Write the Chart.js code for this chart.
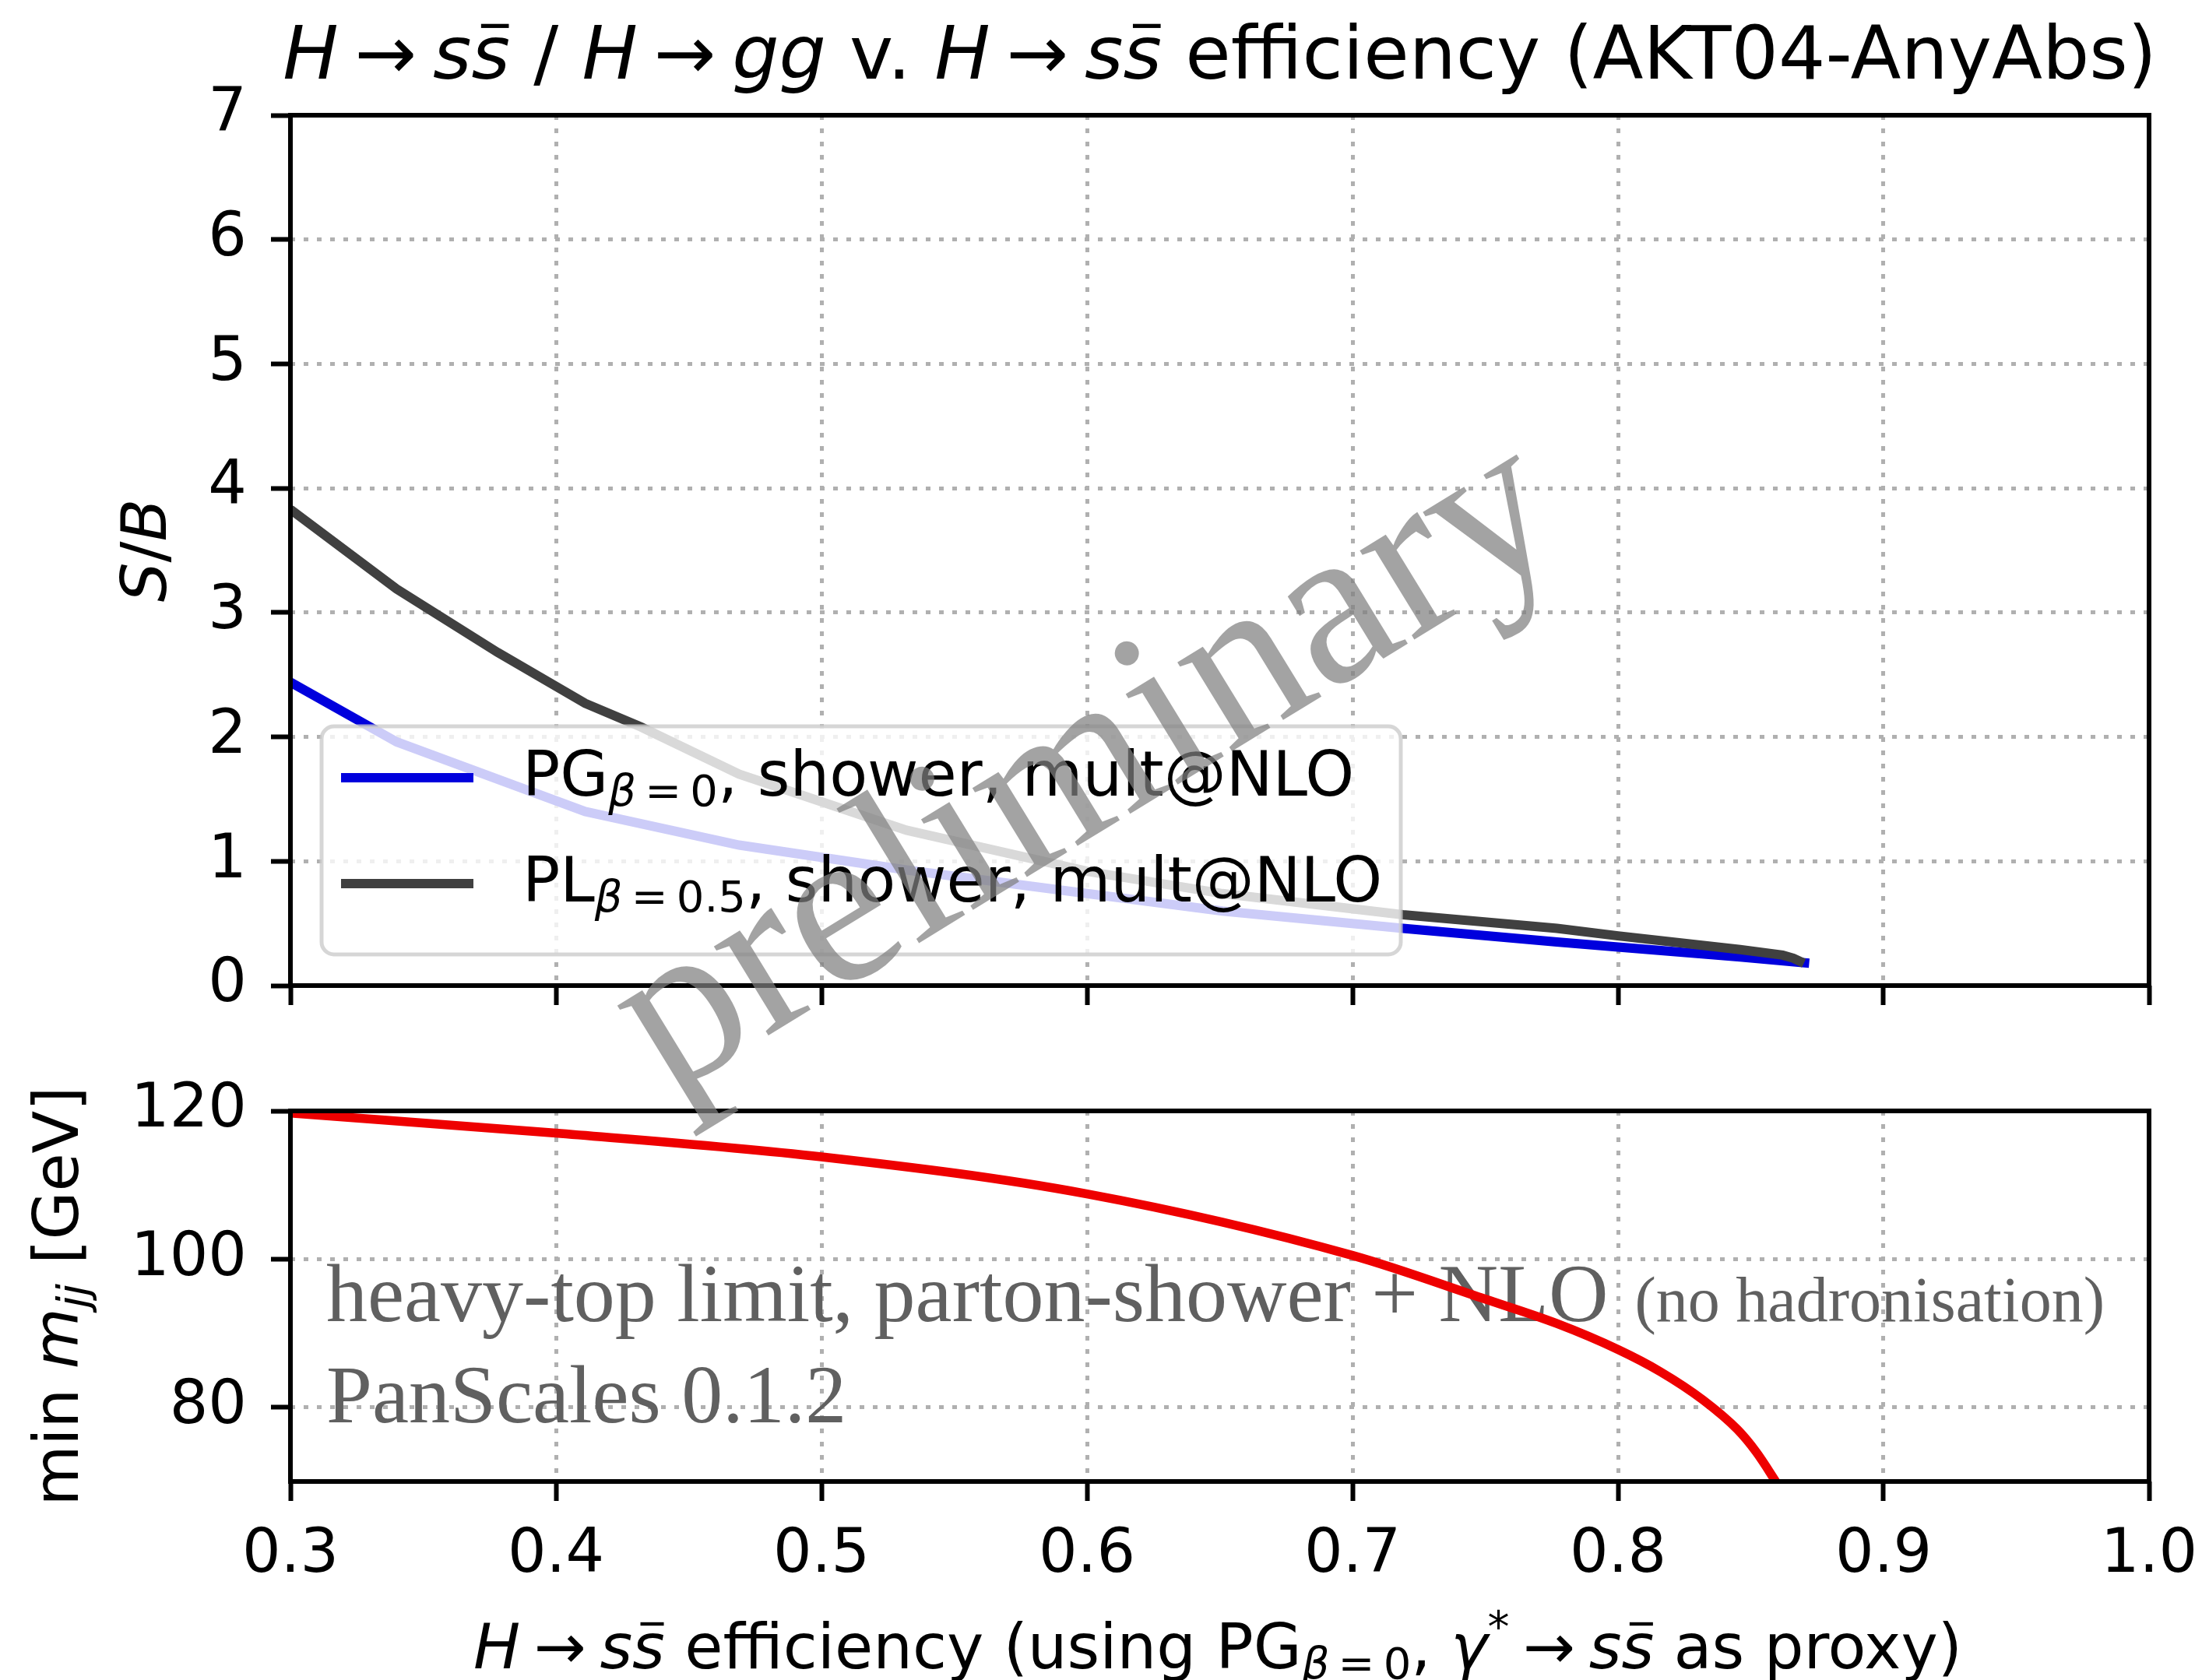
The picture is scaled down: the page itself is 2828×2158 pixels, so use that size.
<!DOCTYPE html>
<html>
<head>
<meta charset="utf-8">
<script src="https://cdn.jsdelivr.net/npm/chart.js@4.4.1/dist/chart.umd.min.js"></script>
<style>
html, body { margin: 0; padding: 0; background: #fff; }
#wrap { position: relative; width: 2828px; height: 2158px; }
canvas { position: absolute; left: 0; top: 0; }
</style>
</head>
<body>
<div id="wrap">
<canvas id="sbChart" width="2828" height="2158"></canvas>
<canvas id="mjjChart" width="2828" height="2158"></canvas>
</div>
<script>
//values
let effPG = [0.300, 0.340, 0.411, 0.469, 0.532, 0.600, 0.651, 0.719, 0.777, 0.800, 0.846, 0.872];
let sbPG = [2.44, 1.96, 1.40, 1.13, 0.93, 0.74, 0.60, 0.46, 0.35, 0.31, 0.23, 0.18];

let effPL = [0.300, 0.340, 0.378, 0.411, 0.432, 0.469, 0.532, 0.600, 0.651, 0.719, 0.777, 0.800, 0.846, 0.862, 0.866, 0.870];
let sbPL = [3.83, 3.19, 2.68, 2.27, 2.08, 1.70, 1.25, 0.92, 0.74, 0.57, 0.46, 0.40, 0.29, 0.245, 0.22, 0.18];

let effCut = [0.300, 0.400, 0.500, 0.600, 0.700, 0.750, 0.777, 0.800, 0.816, 0.832, 0.845, 0.852, 0.8605];
let mjjCut = [119.7, 117.0, 113.8, 108.8, 100.5, 94.6, 91.3, 87.8, 84.8, 81.0, 77.0, 74.0, 69.4];

let xRange = [0.3, 1.0];
let sbRange = [0, 7];
let mjjRange = [70, 120];

let noteMain = "heavy-top limit, parton-shower + NLO";
let noteSmall = "(no hadronisation)";
let noteVersion = "PanScales 0.1.2";
let watermark = "preliminary";

//layout in page pixels
let W = 2828, H = 2158;
let axLeft = 373, axRight = 2760;
let topBox = [148, 1266];
let botBox = [1427, 1903];

let sans = '"DejaVu Sans"';
let serif = '"Liberation Serif"';
let tickSize = 78;
let labelSize = 80;
let gridColor = "#b0b0b0";

function toPoints(xs, ys) {
    return xs.map((x, i) => ({ x: x, y: ys[i] }));
}

//draws a run of text pieces (italic, sub/superscript, overbar)
function drawRich(ctx, segs, x, y, size, align, color) {
    let w = 0;
    let items = segs.map(s => {
        let fs = size * (s.sc || 1);
        let font = (s.it ? "italic " : "") + fs + "px " + sans;
        ctx.font = font;
        let tw = ctx.measureText(s.t).width;
        let item = { s: s, fs: fs, font: font, tw: tw, x: w + (s.pre || 0) * size };
        w = item.x + tw + (s.post || 0) * size;
        return item;
    });
    let x0 = align === "center" ? x - w / 2 : x;
    ctx.fillStyle = color;
    ctx.textAlign = "left";
    ctx.textBaseline = "alphabetic";
    items.forEach(it => {
        ctx.font = it.font;
        let yy = y + (it.s.dy || 0) * size;
        ctx.fillText(it.s.t, x0 + it.x, yy);
        if (it.s.bar) {
            ctx.fillRect(x0 + it.x + it.tw * 0.25, yy - it.fs * 0.74, it.tw * 0.72, it.fs * 0.055);
        }
    });
    return w;
}

let arrow = { t: "\u2192", pre: 0.22, post: 0.22 };

let titleSegs = [
    { t: "H", it: 1 }, arrow, { t: "s", it: 1 }, { t: "s", it: 1, bar: 1 },
    { t: " / " },
    { t: "H", it: 1 }, arrow, { t: "gg", it: 1 },
    { t: " v. " },
    { t: "H", it: 1 }, arrow, { t: "s", it: 1 }, { t: "s", it: 1, bar: 1 },
    { t: " efficiency (AKT04-AnyAbs)" },
];

let xLabelSegs = [
    { t: "H", it: 1 }, arrow, { t: "s", it: 1 }, { t: "s", it: 1, bar: 1 },
    { t: " efficiency (using PG" },
    { t: "\u03b2", it: 1, sc: 0.7, dy: 0.16 },
    { t: "=", sc: 0.7, dy: 0.16, pre: 0.14, post: 0.14 },
    { t: "0", sc: 0.7, dy: 0.16 },
    { t: ", " },
    { t: "\u03b3", it: 1 }, { t: "*", sc: 0.7, dy: -0.42 },
    arrow, { t: "s", it: 1 }, { t: "s", it: 1, bar: 1 },
    { t: " as proxy)" },
];

let sbLabelSegs = [{ t: "S", it: 1 }, { t: "/" }, { t: "B", it: 1 }];
let mjjLabelSegs = [{ t: "min " }, { t: "m", it: 1 }, { t: "jj", it: 1, sc: 0.7, dy: 0.16 }, { t: " [GeV]" }];

let legendRows = [
    {
        color: "#0000dd",
        segs: [{ t: "PG" }, { t: "\u03b2", it: 1, sc: 0.7, dy: 0.16 }, { t: "=", sc: 0.7, dy: 0.16, pre: 0.14, post: 0.14 },
            { t: "0", sc: 0.7, dy: 0.16 }, { t: ", shower, mult@NLO" }],
    },
    {
        color: "#404040",
        segs: [{ t: "PL" }, { t: "\u03b2", it: 1, sc: 0.7, dy: 0.16 }, { t: "=", sc: 0.7, dy: 0.16, pre: 0.14, post: 0.14 },
            { t: "0.5", sc: 0.7, dy: 0.16 }, { t: ", shower, mult@NLO" }],
    },
];

function roundRect(ctx, x, y, w, h, r) {
    ctx.beginPath();
    ctx.moveTo(x + r, y);
    ctx.arcTo(x + w, y, x + w, y + h, r);
    ctx.arcTo(x + w, y + h, x, y + h, r);
    ctx.arcTo(x, y + h, x, y, r);
    ctx.arcTo(x, y, x + w, y, r);
    ctx.closePath();
}

function drawFrame(chart) {
    let ctx = chart.ctx, a = chart.chartArea;
    ctx.save();
    ctx.strokeStyle = "#000";
    ctx.lineWidth = 6;
    ctx.strokeRect(a.left, a.top, a.right - a.left, a.bottom - a.top);
    ctx.restore();
}

function xAxis(showLabels, height) {
    return {
        type: "linear",
        min: xRange[0],
        max: xRange[1],
        ticks: {
            stepSize: 0.1,
            maxRotation: 0,
            autoSkip: false,
            padding: 24,
            color: "#000",
            font: { family: "DejaVu Sans", size: tickSize },
            callback: v => showLabels ? v.toFixed(1) : "",
        },
        grid: { color: gridColor, lineWidth: 5, tickLength: 25, tickWidth: 6, tickColor: "#000" },
        border: { display: false, dash: [6, 11] },
        afterFit: s => {
            s.height = height;
            s.paddingLeft = 0;
            s.paddingRight = 0;
        },
    };
}

function yAxis(range, step) {
    return {
        min: range[0],
        max: range[1],
        ticks: {
            stepSize: step,
            includeBounds: false,
            padding: 31,
            color: "#000",
            font: { family: "DejaVu Sans", size: tickSize },
        },
        grid: { color: gridColor, lineWidth: 5, tickLength: 25, tickWidth: 6, tickColor: "#000" },
        border: { display: false, dash: [6, 11] },
        afterFit: s => {
            s.width = axLeft;
            s.paddingTop = 0;
            s.paddingBottom = 0;
        },
    };
}

//S/B chart
let sbDecor = {
    id: "sbDecor",
    afterDatasetsDraw(chart) {
        let ctx = chart.ctx;
        drawFrame(chart);
        //legend, semi-transparent like matplotlib
        ctx.save();
        roundRect(ctx, 413, 933, 1386, 293, 16);
        ctx.fillStyle = "rgba(255,255,255,0.8)";
        ctx.fill();
        ctx.strokeStyle = "rgba(204,204,204,0.8)";
        ctx.lineWidth = 5;
        ctx.stroke();
        legendRows.forEach((row, i) => {
            let base = 1022 + i * 136;
            ctx.strokeStyle = row.color;
            ctx.lineWidth = 12;
            ctx.beginPath();
            ctx.moveTo(438, base - 23);
            ctx.lineTo(608, base - 23);
            ctx.stroke();
            drawRich(ctx, row.segs, 671, base, labelSize, "left", "#000");
        });
        ctx.restore();
    },
    afterDraw(chart) {
        let ctx = chart.ctx;
        ctx.save();
        drawRich(ctx, titleSegs, (axLeft + axRight) / 2, 101, 95, "center", "#000");
        ctx.translate(213, (topBox[0] + topBox[1]) / 2);
        ctx.rotate(-Math.PI / 2);
        drawRich(ctx, sbLabelSegs, 0, 0, labelSize, "center", "#000");
        ctx.restore();
    },
};

new Chart(document.getElementById("sbChart").getContext("2d"), {
    type: "line",
    data: {
        datasets: [{
            data: toPoints(effPG, sbPG),
            borderColor: "#0000dd",
            borderWidth: 12,
            pointRadius: 0,
            order: 2,
            clip: 0,
        }, {
            data: toPoints(effPL, sbPL),
            borderColor: "#404040",
            borderWidth: 12,
            pointRadius: 0,
            order: 1,
            clip: 0,
        }, ],
    },
    options: {
        responsive: false,
        animation: false,
        devicePixelRatio: 1,
        layout: { padding: { left: 0, right: W - axRight, top: topBox[0], bottom: 0 } },
        plugins: { legend: { display: false }, tooltip: { enabled: false }, title: { display: false } },
        scales: {
            x: xAxis(false, H - topBox[1]),
            y: yAxis(sbRange, 1),
        },
    },
    plugins: [sbDecor],
});

//min m_jj chart
let mjjDecor = {
    id: "mjjDecor",
    beforeDatasetsDraw(chart) {
        let ctx = chart.ctx;
        ctx.save();
        ctx.fillStyle = "#606060";
        ctx.textAlign = "left";
        ctx.textBaseline = "alphabetic";
        ctx.font = "106px " + serif;
        ctx.fillText(noteMain, 419, 1697);
        let w = ctx.measureText(noteMain).width;
        ctx.font = "82px " + serif;
        ctx.fillText(noteSmall, 419 + w + 34, 1697);
        ctx.font = "106px " + serif;
        ctx.fillText(noteVersion, 419, 1827);
        ctx.restore();
    },
    afterDatasetsDraw(chart) {
        drawFrame(chart);
    },
    afterDraw(chart) {
        let ctx = chart.ctx;
        ctx.save();
        drawRich(ctx, xLabelSegs, 1564, 2143, labelSize, "center", "#000");
        ctx.save();
        ctx.translate(100, (botBox[0] + botBox[1]) / 2);
        ctx.rotate(-Math.PI / 2);
        drawRich(ctx, mjjLabelSegs, 0, 0, labelSize, "center", "#000");
        ctx.restore();
        //watermark over both panels
        ctx.translate(1398, 988);
        ctx.rotate(-31.5 * Math.PI / 180);
        ctx.font = "292px " + serif;
        ctx.fillStyle = "rgba(128,128,128,0.72)";
        ctx.textAlign = "center";
        ctx.textBaseline = "middle";
        ctx.fillText(watermark, 0, 0);
        ctx.restore();
    },
};

new Chart(document.getElementById("mjjChart").getContext("2d"), {
    type: "line",
    data: {
        datasets: [{
            data: toPoints(effCut, mjjCut),
            borderColor: "#ee0000",
            borderWidth: 11.5,
            pointRadius: 0,
            cubicInterpolationMode: "monotone",
            clip: 0,
        }, ],
    },
    options: {
        responsive: false,
        animation: false,
        devicePixelRatio: 1,
        layout: { padding: { left: 0, right: W - axRight, top: botBox[0], bottom: 0 } },
        plugins: { legend: { display: false }, tooltip: { enabled: false }, title: { display: false } },
        scales: {
            x: xAxis(true, H - botBox[1]),
            y: yAxis(mjjRange, 20),
        },
    },
    plugins: [mjjDecor],
});
</script>
</body>
</html>
